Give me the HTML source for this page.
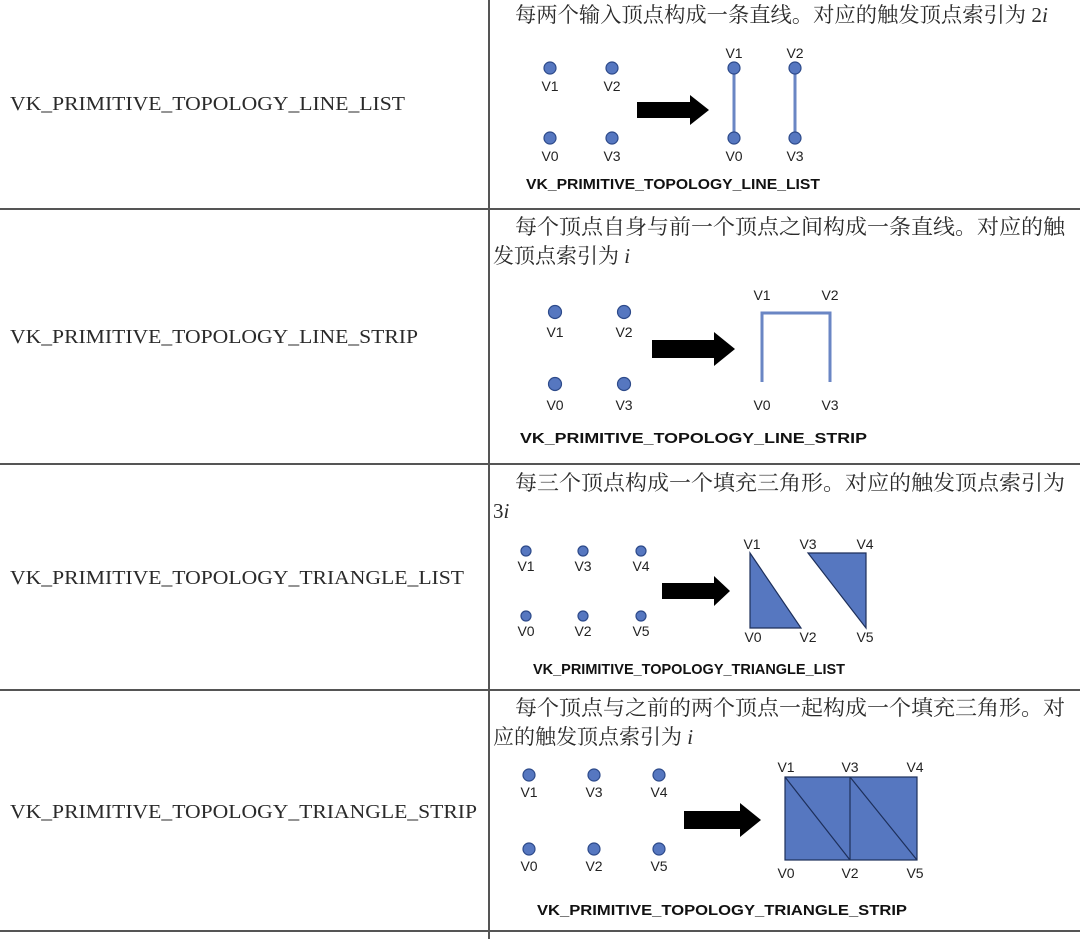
<!DOCTYPE html>
<html><head><meta charset="utf-8"><style>
body{margin:0;background:#fff;width:1080px;height:939px;overflow:hidden}
svg{display:block}
.l{font-family:"Liberation Serif","Noto Serif CJK SC",serif;font-size:20px;fill:#2a2a2a}
.c{font-family:"Liberation Serif","Noto Serif CJK SC",serif;font-size:21px;fill:#2a2a2a}
.v{font-family:"Liberation Sans",sans-serif;font-size:14px;fill:#222;text-anchor:middle}
.t{font-family:"Liberation Sans",sans-serif;font-size:15px;font-weight:bold;fill:#111}
.d{fill:#5677c0;stroke:#2d4a8a;stroke-width:1.2}
.tri{fill:#5677c0;stroke:#1d2f5a;stroke-width:1.2}
</style></head><body>
<svg width="1080" height="939" viewBox="0 0 1080 939">
<g stroke="#555" stroke-width="2">
<line x1="0" y1="209" x2="1080" y2="209"/>
<line x1="0" y1="464" x2="1080" y2="464"/>
<line x1="0" y1="690" x2="1080" y2="690"/>
<line x1="0" y1="931" x2="1080" y2="931"/>
<line x1="489" y1="0" x2="489" y2="939"/>
</g>
<text class="l" x="10" y="110" textLength="395" lengthAdjust="spacingAndGlyphs">VK_PRIMITIVE_TOPOLOGY_LINE_LIST</text>
<text class="l" x="10" y="343" textLength="408" lengthAdjust="spacingAndGlyphs">VK_PRIMITIVE_TOPOLOGY_LINE_STRIP</text>
<text class="l" x="10" y="584" textLength="454" lengthAdjust="spacingAndGlyphs">VK_PRIMITIVE_TOPOLOGY_TRIANGLE_LIST</text>
<text class="l" x="10" y="818" textLength="467" lengthAdjust="spacingAndGlyphs">VK_PRIMITIVE_TOPOLOGY_TRIANGLE_STRIP</text>

<!-- row 1 -->
<text class="c" x="515" y="22" textLength="533" lengthAdjust="spacingAndGlyphs">每两个输入顶点构成一条直线。对应的触发顶点索引为 2<tspan font-style="italic">i</tspan></text>
<circle class="d" cx="550" cy="68" r="6"/><circle class="d" cx="612" cy="68" r="6"/>
<circle class="d" cx="550" cy="138" r="6"/><circle class="d" cx="612" cy="138" r="6"/>
<text class="v" x="550" y="91">V1</text><text class="v" x="612" y="91">V2</text>
<text class="v" x="550" y="161">V0</text><text class="v" x="612" y="161">V3</text>
<polygon points="637,102 690,102 690,95 709,110 690,125 690,118 637,118" fill="#000"/>
<line x1="734" y1="68" x2="734" y2="138" stroke="#6a86c4" stroke-width="3"/>
<line x1="795" y1="68" x2="795" y2="138" stroke="#6a86c4" stroke-width="3"/>
<circle class="d" cx="734" cy="68" r="6"/><circle class="d" cx="795" cy="68" r="6"/>
<circle class="d" cx="734" cy="138" r="6"/><circle class="d" cx="795" cy="138" r="6"/>
<text class="v" x="734" y="58">V1</text><text class="v" x="795" y="58">V2</text>
<text class="v" x="734" y="161">V0</text><text class="v" x="795" y="161">V3</text>
<text class="t" x="526" y="189" textLength="294" lengthAdjust="spacingAndGlyphs">VK_PRIMITIVE_TOPOLOGY_LINE_LIST</text>

<!-- row 2 -->
<text class="c" x="515" y="234" textLength="550" lengthAdjust="spacingAndGlyphs">每个顶点自身与前一个顶点之间构成一条直线。对应的触</text>
<text class="c" x="493" y="263">发顶点索引为 <tspan font-style="italic">i</tspan></text>
<circle class="d" cx="555" cy="312" r="6.5"/><circle class="d" cx="624" cy="312" r="6.5"/>
<circle class="d" cx="555" cy="384" r="6.5"/><circle class="d" cx="624" cy="384" r="6.5"/>
<text class="v" x="555" y="337" font-size="16">V1</text><text class="v" x="624" y="337" font-size="16">V2</text>
<text class="v" x="555" y="410" font-size="16">V0</text><text class="v" x="624" y="410" font-size="16">V3</text>
<polygon points="652,340 714,340 714,332 735,349 714,366 714,358 652,358" fill="#000"/>
<polyline points="762,382 762,313 830,313 830,382" fill="none" stroke="#6a86c4" stroke-width="3"/>
<text class="v" x="762" y="300" font-size="16">V1</text><text class="v" x="830" y="300" font-size="16">V2</text>
<text class="v" x="762" y="410" font-size="16">V0</text><text class="v" x="830" y="410" font-size="16">V3</text>
<text class="t" x="520" y="443" font-size="16" textLength="347" lengthAdjust="spacingAndGlyphs">VK_PRIMITIVE_TOPOLOGY_LINE_STRIP</text>

<!-- row 3 -->
<text class="c" x="515" y="490" textLength="550" lengthAdjust="spacingAndGlyphs">每三个顶点构成一个填充三角形。对应的触发顶点索引为</text>
<text class="c" x="493" y="518">3<tspan font-style="italic">i</tspan></text>
<circle class="d" cx="526" cy="551" r="5"/><circle class="d" cx="583" cy="551" r="5"/><circle class="d" cx="641" cy="551" r="5"/>
<circle class="d" cx="526" cy="616" r="5"/><circle class="d" cx="583" cy="616" r="5"/><circle class="d" cx="641" cy="616" r="5"/>
<text class="v" x="526" y="571" font-size="13">V1</text><text class="v" x="583" y="571" font-size="13">V3</text><text class="v" x="641" y="571" font-size="13">V4</text>
<text class="v" x="526" y="636" font-size="13">V0</text><text class="v" x="583" y="636" font-size="13">V2</text><text class="v" x="641" y="636" font-size="13">V5</text>
<polygon points="662,583 714,583 714,576 730,591 714,606 714,599 662,599" fill="#000"/>
<polygon class="tri" points="750,553 750,628 801,628"/>
<polygon class="tri" points="808,553 866,553 866,628"/>
<text class="v" x="752" y="549" font-size="13">V1</text><text class="v" x="808" y="549" font-size="13">V3</text><text class="v" x="865" y="549" font-size="13">V4</text>
<text class="v" x="753" y="642" font-size="13">V0</text><text class="v" x="808" y="642" font-size="13">V2</text><text class="v" x="865" y="642" font-size="13">V5</text>
<text class="t" x="533" y="674" font-size="14" textLength="312" lengthAdjust="spacingAndGlyphs">VK_PRIMITIVE_TOPOLOGY_TRIANGLE_LIST</text>

<!-- row 4 -->
<text class="c" x="515" y="715" textLength="550" lengthAdjust="spacingAndGlyphs">每个顶点与之前的两个顶点一起构成一个填充三角形。对</text>
<text class="c" x="493" y="744">应的触发顶点索引为 <tspan font-style="italic">i</tspan></text>
<circle class="d" cx="529" cy="775" r="6"/><circle class="d" cx="594" cy="775" r="6"/><circle class="d" cx="659" cy="775" r="6"/>
<circle class="d" cx="529" cy="849" r="6"/><circle class="d" cx="594" cy="849" r="6"/><circle class="d" cx="659" cy="849" r="6"/>
<text class="v" x="529" y="797" font-size="15">V1</text><text class="v" x="594" y="797" font-size="15">V3</text><text class="v" x="659" y="797" font-size="15">V4</text>
<text class="v" x="529" y="871" font-size="15">V0</text><text class="v" x="594" y="871" font-size="15">V2</text><text class="v" x="659" y="871" font-size="15">V5</text>
<polygon points="684,811 740,811 740,803 761,820 740,837 740,829 684,829" fill="#000"/>
<rect class="tri" x="785" y="777" width="132" height="83"/>
<g stroke="#1d2f5a" stroke-width="1.2">
<line x1="850" y1="777" x2="850" y2="860"/>
<line x1="785" y1="777" x2="850" y2="860"/>
<line x1="850" y1="777" x2="917" y2="860"/>
</g>
<text class="v" x="786" y="772" font-size="15">V1</text><text class="v" x="850" y="772" font-size="15">V3</text><text class="v" x="915" y="772" font-size="15">V4</text>
<text class="v" x="786" y="878" font-size="15">V0</text><text class="v" x="850" y="878" font-size="15">V2</text><text class="v" x="915" y="878" font-size="15">V5</text>
<text class="t" x="537" y="915" font-size="16" textLength="370" lengthAdjust="spacingAndGlyphs">VK_PRIMITIVE_TOPOLOGY_TRIANGLE_STRIP</text>
</svg>
</body></html>
